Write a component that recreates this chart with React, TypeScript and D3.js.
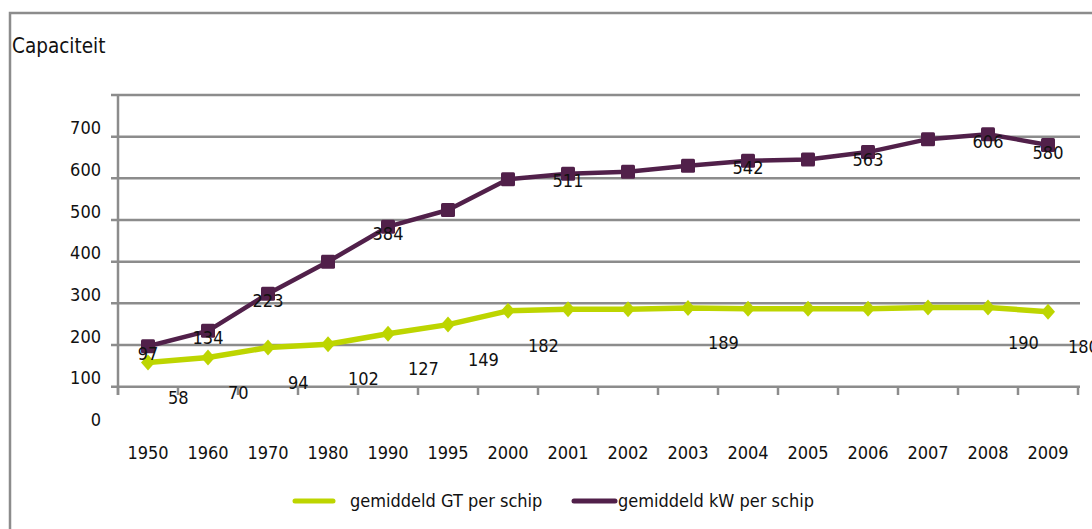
import React from "react";
import * as d3 from "d3";

const years = ["1950","1960","1970","1980","1990","1995","2000","2001","2002","2003","2004","2005","2006","2007","2008","2009"];
const gtValues = [58,70,94,102,127,149,182,186,186,189,187,187,187,190,190,180];
const kwValues = [97,134,223,300,384,424,498,511,516,530,542,545,563,594,606,580];
// which data labels are visible in the original
const gtLabelShown = [true,true,true,true,true,true,true,false,false,true,false,false,false,false,true,true];
const kwLabelShown = [true,true,true,false,true,false,false,true,false,false,true,false,true,false,true,true];
const yTicks = [0,100,200,300,400,500,600,700];
const seriesNames = ["gemiddeld GT per schip","gemiddeld kW per schip"];
const GREEN = "#bdd500";
const PURPLE = "#51204a";
const GRID = "#8c8c8c";
const FONT = "'DejaVu Sans Condensed', 'DejaVu Sans', sans-serif";

export default function App() {
  const W = 1092, H = 529;
  const x = d3.scaleBand<string>().domain(years).range([118, 1078]).padding(0);
  const y = d3.scaleLinear().domain([0, 700]).range([386.7, 95]);
  const cx = (yr: string) => (x(yr) as number) + x.bandwidth() / 2;

  const line = d3.line<number>().x((_, i) => cx(years[i])).y((d) => y(d));
  const boundaries = d3.range(years.length + 1).map((i) => 118 + i * x.bandwidth());
  const sq = 14;
  const dm = 8;
  const fs = 18;

  return (
    <svg width={W} height={H} style={{ position: "absolute", left: 0, top: 0, background: "#fff" }} fontFamily={FONT} fontStretch="condensed">
      {/* outer frame */}
      <path d={`M10,${H + 5} L10,13 L${W + 5},13`} fill="none" stroke={GRID} strokeWidth={2.5} />
      <text x={12} y={53} fontSize={20.5} fill="#111">Capaciteit</text>

      {/* gridlines */}
      {yTicks.map((t) => (
        <line key={"g" + t} x1={111} x2={1080} y1={y(t)} y2={y(t)} stroke={GRID} strokeWidth={2.5} />
      ))}
      {/* y axis */}
      <line x1={118} x2={118} y1={y(700)} y2={395} stroke={GRID} strokeWidth={2.5} />
      {/* x ticks */}
      {boundaries.map((b, i) => (
        <line key={"xt" + i} x1={b} x2={b} y1={y(0)} y2={395} stroke={GRID} strokeWidth={2.5} />
      ))}
      {/* y tick labels (offset as in original) */}
      {yTicks.map((t) => (
        <text key={"yl" + t} x={101} y={y(t - 100) - 9} fontSize={fs} textAnchor="end" dominantBaseline="central" fill="#111">{t}</text>
      ))}
      {/* x labels */}
      {years.map((yr) => (
        <text key={"xl" + yr} x={cx(yr)} y={452} fontSize={fs} textAnchor="middle" dominantBaseline="central" fill="#111">{yr}</text>
      ))}

      {/* GT series */}
      <path d={line(gtValues) || ""} fill="none" stroke={GREEN} strokeWidth={5.5} strokeLinejoin="round" />
      {gtValues.map((v, i) => (
        <path key={"gm" + i} d={`M${cx(years[i])},${y(v) - dm} L${cx(years[i]) + dm - 1},${y(v)} L${cx(years[i])},${y(v) + dm} L${cx(years[i]) - dm + 1},${y(v)} Z`} fill={GREEN} />
      ))}
      {/* kW series */}
      <path d={line(kwValues) || ""} fill="none" stroke={PURPLE} strokeWidth={4.5} strokeLinejoin="round" />
      {kwValues.map((v, i) => (
        <rect key={"km" + i} x={cx(years[i]) - sq / 2} y={y(v) - sq / 2} width={sq} height={sq} rx={1.5} fill={PURPLE} />
      ))}

      {/* data labels */}
      {gtValues.map((v, i) => gtLabelShown[i] ? (
        <text key={"gl" + i} x={cx(years[i]) + 20} y={y(v) + 34.5} fontSize={fs} dominantBaseline="central" fill="#111">{v}</text>
      ) : null)}
      {kwValues.map((v, i) => kwLabelShown[i] ? (
        <text key={"kl" + i} x={cx(years[i])} y={y(v) + 7} fontSize={fs} textAnchor="middle" dominantBaseline="central" fill="#111">{v}</text>
      ) : null)}

      {/* legend */}
      <line x1={295} x2={333} y1={501} y2={501} stroke={GREEN} strokeWidth={5} strokeLinecap="round" />
      <text x={350} y={500} fontSize={fs} dominantBaseline="central" fill="#111">{seriesNames[0]}</text>
      <line x1={574} x2={615} y1={501} y2={501} stroke={PURPLE} strokeWidth={5} strokeLinecap="round" />
      <text x={618} y={500} fontSize={fs} dominantBaseline="central" fill="#111">{seriesNames[1]}</text>
    </svg>
  );
}
